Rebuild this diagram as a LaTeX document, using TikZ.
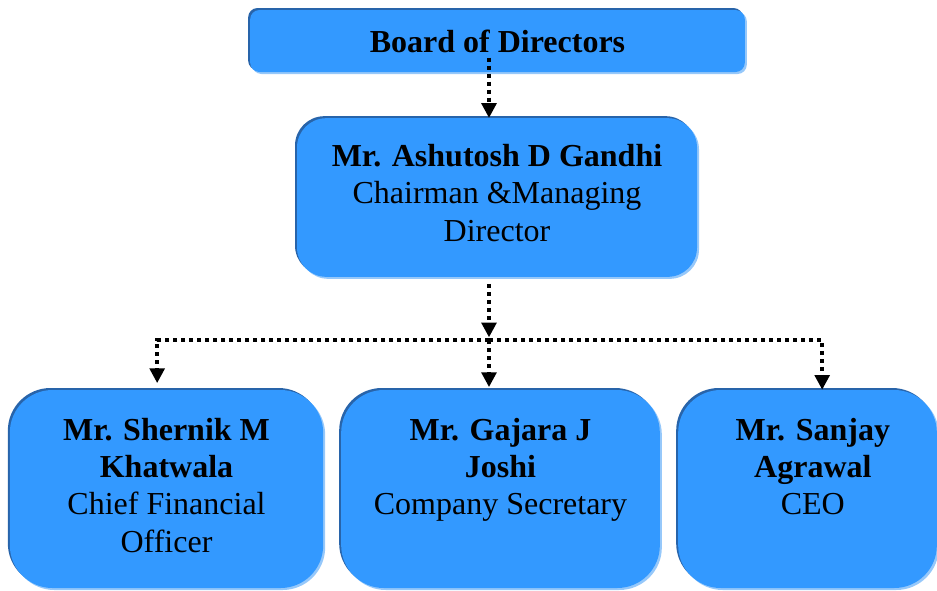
\documentclass[tikz,border=0pt]{standalone}
\usepackage{fontspec}
\setmainfont{Liberation Serif}
\usetikzlibrary{arrows.meta,shadows}
\definecolor{boxblue}{RGB}{51,153,255}
\definecolor{edgedark}{RGB}{40,100,170}
\definecolor{edgelight}{RGB}{150,200,250}

\begin{document}
\begin{tikzpicture}[x=0.75pt,y=-0.75pt,
	box/.style={fill=boxblue, draw=none, inner sep=0pt,
		general shadow={fill=edgedark, shadow xshift=-1.5pt, shadow yshift=1.5pt},
		general shadow={fill=edgelight, shadow xshift=1.5pt, shadow yshift=-1.5pt}},
	person/.style={align=center, inner sep=0pt, anchor=north,
		font=\fontsize{24}{28}\selectfont},
	link/.style={line width=2.6pt, dash pattern=on 3pt off 3pt,
		-{Triangle[width=11pt,length=11pt]}}]
	\useasboundingbox (0,0) rectangle (937,590);

	% boxes
	\node[box, rounded corners=7pt, minimum width=371pt, minimum height=46.5pt,
		font=\fontsize{24}{28}\selectfont\bfseries] (board) at (497.5,41) {Board of Directors};
	\node[box, rounded corners=22pt, minimum width=300pt, minimum height=119pt] (chair) at (497,197.5) {};
	\node[box, rounded corners=32pt, minimum width=235pt, minimum height=148.5pt] (cfo) at (166.5,489) {};
	\node[box, rounded corners=32pt, minimum width=239pt, minimum height=148.5pt] (cs) at (500.5,489) {};
	\node[box, rounded corners=32pt, minimum width=194pt, minimum height=148.5pt] (ceo) at (807.5,489) {};

	% names and posts
	\node[person] (chair text) at ([yshift=-19.5pt]chair.north) {\textbf{Mr. Ashutosh D Gandhi}\\Chairman \&Managing\\Director};
	\node[person] (cfo text) at ([yshift=-21pt]cfo.north) {\textbf{Mr. Shernik M}\\\textbf{Khatwala}\\Chief Financial\\Officer};
	\node[person] (cs text) at ([yshift=-21pt]cs.north) {\textbf{Mr. Gajara J}\\\textbf{Joshi}\\Company Secretary};
	\node[person] (ceo text) at ([yshift=-21pt,xshift=4pt]ceo.north) {\textbf{Mr. Sanjay}\\\textbf{Agrawal}\\CEO};

	% reporting lines
	\coordinate (trunk) at (489,340);
	\draw[link] ([yshift=11pt]board.south -| trunk) -- (chair.north -| trunk);
	\draw[link] ([yshift=-5pt]chair.south -| trunk) -- ([yshift=2pt]trunk);
	\draw[link] (trunk) -| ([xshift=-7pt,yshift=5pt]cfo.north);
	\draw[link] (trunk) -- ([yshift=2pt]cs.north -| trunk);
	\draw[link] (trunk) -| ([xshift=11pt]ceo.north);
\end{tikzpicture}
\end{document}
